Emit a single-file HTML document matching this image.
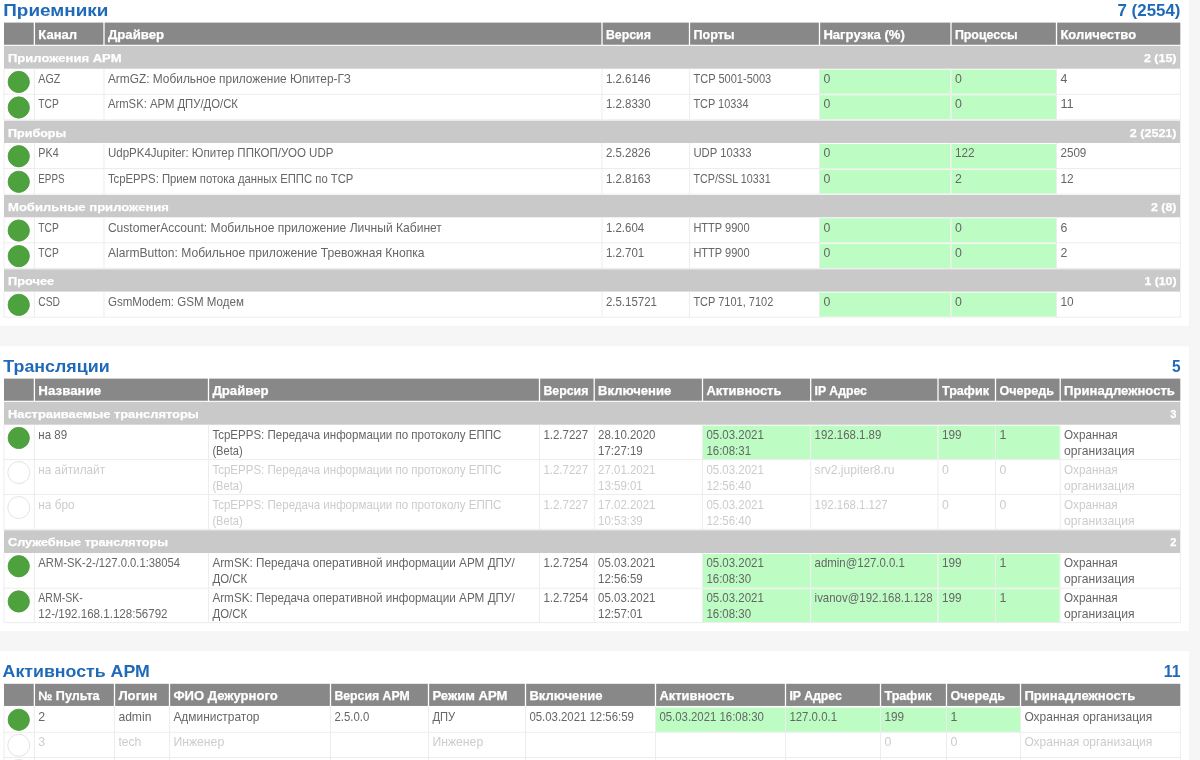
<!DOCTYPE html>
<html lang="ru"><head><meta charset="utf-8"><title>Мониторинг</title>
<style>
html,body{margin:0;padding:0;width:1200px;height:760px;overflow:hidden;background:#f6f6f6;}
#pg{position:absolute;left:-20px;top:-20px;width:1240px;height:800px;overflow:hidden;font-family:"Liberation Sans",sans-serif;filter:blur(0.5px);}
#in{position:absolute;left:20px;top:20px;width:1200px;height:760px;}
#pg svg{position:absolute;left:-20px;top:-20px;}
#pg span{position:absolute;left:0;top:0;white-space:pre;transform-origin:0 0;line-height:16.000px;font-size:11.850px;color:#666666;}
#pg .b{font-weight:bold;-webkit-text-stroke:0.25px #fff;}
#pg .w{color:#fff;}
#pg .d{color:#cccccc;}
#pg .h{font-size:12.000px;}
#pg .g{font-size:11.300px;}
#pg .tt{font-weight:bold;font-size:16.900px;line-height:24.000px;color:#1f6ab8;}
</style></head><body><div id="pg"><div id="in">
<svg width="1240" height="800" viewBox="-20 -20 1240 800">
<rect x="-20.00" y="-20.00" width="1240.00" height="800.00" fill="#f6f6f6"/>
<rect x="-20.00" y="-20.00" width="1208.80" height="345.80" fill="#ffffff"/>
<rect x="4.00" y="22.60" width="29.75" height="22.15" fill="#888888"/>
<rect x="35.05" y="22.60" width="68.30" height="22.15" fill="#888888"/>
<rect x="104.65" y="22.60" width="496.70" height="22.15" fill="#888888"/>
<rect x="602.65" y="22.60" width="86.20" height="22.15" fill="#888888"/>
<rect x="690.15" y="22.60" width="128.70" height="22.15" fill="#888888"/>
<rect x="820.15" y="22.60" width="130.20" height="22.15" fill="#888888"/>
<rect x="951.65" y="22.60" width="104.20" height="22.15" fill="#888888"/>
<rect x="1057.15" y="22.60" width="123.15" height="22.15" fill="#888888"/>
<rect x="4.00" y="45.85" width="1176.30" height="22.85" fill="#c9c9c9"/>
<rect x="819.80" y="69.65" width="130.70" height="24.20" fill="#bdfcc3"/>
<rect x="951.30" y="69.65" width="104.70" height="24.20" fill="#bdfcc3"/>
<rect x="4.00" y="93.75" width="1176.30" height="1.00" fill="#ededed"/>
<rect x="3.50" y="68.70" width="1.00" height="26.05" fill="#ededed"/>
<rect x="33.90" y="68.70" width="1.00" height="26.05" fill="#ededed"/>
<rect x="103.50" y="68.70" width="1.00" height="26.05" fill="#ededed"/>
<rect x="601.50" y="68.70" width="1.00" height="26.05" fill="#ededed"/>
<rect x="689.00" y="68.70" width="1.00" height="26.05" fill="#ededed"/>
<rect x="819.00" y="68.70" width="1.00" height="26.05" fill="#ededed"/>
<rect x="950.50" y="68.70" width="1.00" height="26.05" fill="#ededed"/>
<rect x="1056.00" y="68.70" width="1.00" height="26.05" fill="#ededed"/>
<rect x="1179.80" y="68.70" width="1.00" height="26.05" fill="#ededed"/>
<rect x="819.80" y="95.20" width="130.70" height="24.20" fill="#bdfcc3"/>
<rect x="951.30" y="95.20" width="104.70" height="24.20" fill="#bdfcc3"/>
<rect x="4.00" y="119.30" width="1176.30" height="1.00" fill="#ededed"/>
<rect x="3.50" y="94.25" width="1.00" height="26.05" fill="#ededed"/>
<rect x="33.90" y="94.25" width="1.00" height="26.05" fill="#ededed"/>
<rect x="103.50" y="94.25" width="1.00" height="26.05" fill="#ededed"/>
<rect x="601.50" y="94.25" width="1.00" height="26.05" fill="#ededed"/>
<rect x="689.00" y="94.25" width="1.00" height="26.05" fill="#ededed"/>
<rect x="819.00" y="94.25" width="1.00" height="26.05" fill="#ededed"/>
<rect x="950.50" y="94.25" width="1.00" height="26.05" fill="#ededed"/>
<rect x="1056.00" y="94.25" width="1.00" height="26.05" fill="#ededed"/>
<rect x="1179.80" y="94.25" width="1.00" height="26.05" fill="#ededed"/>
<rect x="4.00" y="120.70" width="1176.30" height="22.30" fill="#c9c9c9"/>
<rect x="819.80" y="143.95" width="130.70" height="24.20" fill="#bdfcc3"/>
<rect x="951.30" y="143.95" width="104.70" height="24.20" fill="#bdfcc3"/>
<rect x="4.00" y="168.05" width="1176.30" height="1.00" fill="#ededed"/>
<rect x="3.50" y="143.00" width="1.00" height="26.05" fill="#ededed"/>
<rect x="33.90" y="143.00" width="1.00" height="26.05" fill="#ededed"/>
<rect x="103.50" y="143.00" width="1.00" height="26.05" fill="#ededed"/>
<rect x="601.50" y="143.00" width="1.00" height="26.05" fill="#ededed"/>
<rect x="689.00" y="143.00" width="1.00" height="26.05" fill="#ededed"/>
<rect x="819.00" y="143.00" width="1.00" height="26.05" fill="#ededed"/>
<rect x="950.50" y="143.00" width="1.00" height="26.05" fill="#ededed"/>
<rect x="1056.00" y="143.00" width="1.00" height="26.05" fill="#ededed"/>
<rect x="1179.80" y="143.00" width="1.00" height="26.05" fill="#ededed"/>
<rect x="819.80" y="169.50" width="130.70" height="24.20" fill="#bdfcc3"/>
<rect x="951.30" y="169.50" width="104.70" height="24.20" fill="#bdfcc3"/>
<rect x="4.00" y="193.60" width="1176.30" height="1.00" fill="#ededed"/>
<rect x="3.50" y="168.55" width="1.00" height="26.05" fill="#ededed"/>
<rect x="33.90" y="168.55" width="1.00" height="26.05" fill="#ededed"/>
<rect x="103.50" y="168.55" width="1.00" height="26.05" fill="#ededed"/>
<rect x="601.50" y="168.55" width="1.00" height="26.05" fill="#ededed"/>
<rect x="689.00" y="168.55" width="1.00" height="26.05" fill="#ededed"/>
<rect x="819.00" y="168.55" width="1.00" height="26.05" fill="#ededed"/>
<rect x="950.50" y="168.55" width="1.00" height="26.05" fill="#ededed"/>
<rect x="1056.00" y="168.55" width="1.00" height="26.05" fill="#ededed"/>
<rect x="1179.80" y="168.55" width="1.00" height="26.05" fill="#ededed"/>
<rect x="4.00" y="195.00" width="1176.30" height="22.30" fill="#c9c9c9"/>
<rect x="819.80" y="218.25" width="130.70" height="24.20" fill="#bdfcc3"/>
<rect x="951.30" y="218.25" width="104.70" height="24.20" fill="#bdfcc3"/>
<rect x="4.00" y="242.35" width="1176.30" height="1.00" fill="#ededed"/>
<rect x="3.50" y="217.30" width="1.00" height="26.05" fill="#ededed"/>
<rect x="33.90" y="217.30" width="1.00" height="26.05" fill="#ededed"/>
<rect x="103.50" y="217.30" width="1.00" height="26.05" fill="#ededed"/>
<rect x="601.50" y="217.30" width="1.00" height="26.05" fill="#ededed"/>
<rect x="689.00" y="217.30" width="1.00" height="26.05" fill="#ededed"/>
<rect x="819.00" y="217.30" width="1.00" height="26.05" fill="#ededed"/>
<rect x="950.50" y="217.30" width="1.00" height="26.05" fill="#ededed"/>
<rect x="1056.00" y="217.30" width="1.00" height="26.05" fill="#ededed"/>
<rect x="1179.80" y="217.30" width="1.00" height="26.05" fill="#ededed"/>
<rect x="819.80" y="243.80" width="130.70" height="24.20" fill="#bdfcc3"/>
<rect x="951.30" y="243.80" width="104.70" height="24.20" fill="#bdfcc3"/>
<rect x="4.00" y="267.90" width="1176.30" height="1.00" fill="#ededed"/>
<rect x="3.50" y="242.85" width="1.00" height="26.05" fill="#ededed"/>
<rect x="33.90" y="242.85" width="1.00" height="26.05" fill="#ededed"/>
<rect x="103.50" y="242.85" width="1.00" height="26.05" fill="#ededed"/>
<rect x="601.50" y="242.85" width="1.00" height="26.05" fill="#ededed"/>
<rect x="689.00" y="242.85" width="1.00" height="26.05" fill="#ededed"/>
<rect x="819.00" y="242.85" width="1.00" height="26.05" fill="#ededed"/>
<rect x="950.50" y="242.85" width="1.00" height="26.05" fill="#ededed"/>
<rect x="1056.00" y="242.85" width="1.00" height="26.05" fill="#ededed"/>
<rect x="1179.80" y="242.85" width="1.00" height="26.05" fill="#ededed"/>
<rect x="4.00" y="269.30" width="1176.30" height="22.30" fill="#c9c9c9"/>
<rect x="819.80" y="292.55" width="130.70" height="24.20" fill="#bdfcc3"/>
<rect x="951.30" y="292.55" width="104.70" height="24.20" fill="#bdfcc3"/>
<rect x="4.00" y="316.65" width="1176.30" height="1.00" fill="#ededed"/>
<rect x="3.50" y="291.60" width="1.00" height="26.05" fill="#ededed"/>
<rect x="33.90" y="291.60" width="1.00" height="26.05" fill="#ededed"/>
<rect x="103.50" y="291.60" width="1.00" height="26.05" fill="#ededed"/>
<rect x="601.50" y="291.60" width="1.00" height="26.05" fill="#ededed"/>
<rect x="689.00" y="291.60" width="1.00" height="26.05" fill="#ededed"/>
<rect x="819.00" y="291.60" width="1.00" height="26.05" fill="#ededed"/>
<rect x="950.50" y="291.60" width="1.00" height="26.05" fill="#ededed"/>
<rect x="1056.00" y="291.60" width="1.00" height="26.05" fill="#ededed"/>
<rect x="1179.80" y="291.60" width="1.00" height="26.05" fill="#ededed"/>
<rect x="-20.00" y="346.30" width="1208.80" height="284.80" fill="#ffffff"/>
<rect x="4.00" y="378.60" width="29.75" height="22.15" fill="#888888"/>
<rect x="35.05" y="378.60" width="172.80" height="22.15" fill="#888888"/>
<rect x="209.15" y="378.60" width="329.70" height="22.15" fill="#888888"/>
<rect x="540.15" y="378.60" width="53.40" height="22.15" fill="#888888"/>
<rect x="594.85" y="378.60" width="107.00" height="22.15" fill="#888888"/>
<rect x="703.15" y="378.60" width="106.90" height="22.15" fill="#888888"/>
<rect x="811.35" y="378.60" width="126.00" height="22.15" fill="#888888"/>
<rect x="938.65" y="378.60" width="56.20" height="22.15" fill="#888888"/>
<rect x="996.15" y="378.60" width="63.40" height="22.15" fill="#888888"/>
<rect x="1060.85" y="378.60" width="119.45" height="22.15" fill="#888888"/>
<rect x="4.00" y="401.85" width="1176.30" height="22.85" fill="#c9c9c9"/>
<rect x="702.80" y="425.65" width="107.40" height="33.55" fill="#bdfcc3"/>
<rect x="811.00" y="425.65" width="126.50" height="33.55" fill="#bdfcc3"/>
<rect x="938.30" y="425.65" width="56.70" height="33.55" fill="#bdfcc3"/>
<rect x="995.80" y="425.65" width="63.90" height="33.55" fill="#bdfcc3"/>
<rect x="4.00" y="459.10" width="1176.30" height="1.00" fill="#ededed"/>
<rect x="3.50" y="424.70" width="1.00" height="35.40" fill="#ededed"/>
<rect x="33.90" y="424.70" width="1.00" height="35.40" fill="#ededed"/>
<rect x="208.00" y="424.70" width="1.00" height="35.40" fill="#ededed"/>
<rect x="539.00" y="424.70" width="1.00" height="35.40" fill="#ededed"/>
<rect x="593.70" y="424.70" width="1.00" height="35.40" fill="#ededed"/>
<rect x="702.00" y="424.70" width="1.00" height="35.40" fill="#ededed"/>
<rect x="810.20" y="424.70" width="1.00" height="35.40" fill="#ededed"/>
<rect x="937.50" y="424.70" width="1.00" height="35.40" fill="#ededed"/>
<rect x="995.00" y="424.70" width="1.00" height="35.40" fill="#ededed"/>
<rect x="1059.70" y="424.70" width="1.00" height="35.40" fill="#ededed"/>
<rect x="1179.80" y="424.70" width="1.00" height="35.40" fill="#ededed"/>
<rect x="4.00" y="494.00" width="1176.30" height="1.00" fill="#ededed"/>
<rect x="3.50" y="459.60" width="1.00" height="35.40" fill="#ededed"/>
<rect x="33.90" y="459.60" width="1.00" height="35.40" fill="#ededed"/>
<rect x="208.00" y="459.60" width="1.00" height="35.40" fill="#ededed"/>
<rect x="539.00" y="459.60" width="1.00" height="35.40" fill="#ededed"/>
<rect x="593.70" y="459.60" width="1.00" height="35.40" fill="#ededed"/>
<rect x="702.00" y="459.60" width="1.00" height="35.40" fill="#ededed"/>
<rect x="810.20" y="459.60" width="1.00" height="35.40" fill="#ededed"/>
<rect x="937.50" y="459.60" width="1.00" height="35.40" fill="#ededed"/>
<rect x="995.00" y="459.60" width="1.00" height="35.40" fill="#ededed"/>
<rect x="1059.70" y="459.60" width="1.00" height="35.40" fill="#ededed"/>
<rect x="1179.80" y="459.60" width="1.00" height="35.40" fill="#ededed"/>
<rect x="4.00" y="528.90" width="1176.30" height="1.00" fill="#ededed"/>
<rect x="3.50" y="494.50" width="1.00" height="35.40" fill="#ededed"/>
<rect x="33.90" y="494.50" width="1.00" height="35.40" fill="#ededed"/>
<rect x="208.00" y="494.50" width="1.00" height="35.40" fill="#ededed"/>
<rect x="539.00" y="494.50" width="1.00" height="35.40" fill="#ededed"/>
<rect x="593.70" y="494.50" width="1.00" height="35.40" fill="#ededed"/>
<rect x="702.00" y="494.50" width="1.00" height="35.40" fill="#ededed"/>
<rect x="810.20" y="494.50" width="1.00" height="35.40" fill="#ededed"/>
<rect x="937.50" y="494.50" width="1.00" height="35.40" fill="#ededed"/>
<rect x="995.00" y="494.50" width="1.00" height="35.40" fill="#ededed"/>
<rect x="1059.70" y="494.50" width="1.00" height="35.40" fill="#ededed"/>
<rect x="1179.80" y="494.50" width="1.00" height="35.40" fill="#ededed"/>
<rect x="4.00" y="530.30" width="1176.30" height="22.70" fill="#c9c9c9"/>
<rect x="702.80" y="553.95" width="107.40" height="33.85" fill="#bdfcc3"/>
<rect x="811.00" y="553.95" width="126.50" height="33.85" fill="#bdfcc3"/>
<rect x="938.30" y="553.95" width="56.70" height="33.85" fill="#bdfcc3"/>
<rect x="995.80" y="553.95" width="63.90" height="33.85" fill="#bdfcc3"/>
<rect x="4.00" y="587.70" width="1176.30" height="1.00" fill="#ededed"/>
<rect x="3.50" y="553.00" width="1.00" height="35.70" fill="#ededed"/>
<rect x="33.90" y="553.00" width="1.00" height="35.70" fill="#ededed"/>
<rect x="208.00" y="553.00" width="1.00" height="35.70" fill="#ededed"/>
<rect x="539.00" y="553.00" width="1.00" height="35.70" fill="#ededed"/>
<rect x="593.70" y="553.00" width="1.00" height="35.70" fill="#ededed"/>
<rect x="702.00" y="553.00" width="1.00" height="35.70" fill="#ededed"/>
<rect x="810.20" y="553.00" width="1.00" height="35.70" fill="#ededed"/>
<rect x="937.50" y="553.00" width="1.00" height="35.70" fill="#ededed"/>
<rect x="995.00" y="553.00" width="1.00" height="35.70" fill="#ededed"/>
<rect x="1059.70" y="553.00" width="1.00" height="35.70" fill="#ededed"/>
<rect x="1179.80" y="553.00" width="1.00" height="35.70" fill="#ededed"/>
<rect x="702.80" y="589.15" width="107.40" height="33.05" fill="#bdfcc3"/>
<rect x="811.00" y="589.15" width="126.50" height="33.05" fill="#bdfcc3"/>
<rect x="938.30" y="589.15" width="56.70" height="33.05" fill="#bdfcc3"/>
<rect x="995.80" y="589.15" width="63.90" height="33.05" fill="#bdfcc3"/>
<rect x="4.00" y="622.10" width="1176.30" height="1.00" fill="#ededed"/>
<rect x="3.50" y="588.20" width="1.00" height="34.90" fill="#ededed"/>
<rect x="33.90" y="588.20" width="1.00" height="34.90" fill="#ededed"/>
<rect x="208.00" y="588.20" width="1.00" height="34.90" fill="#ededed"/>
<rect x="539.00" y="588.20" width="1.00" height="34.90" fill="#ededed"/>
<rect x="593.70" y="588.20" width="1.00" height="34.90" fill="#ededed"/>
<rect x="702.00" y="588.20" width="1.00" height="34.90" fill="#ededed"/>
<rect x="810.20" y="588.20" width="1.00" height="34.90" fill="#ededed"/>
<rect x="937.50" y="588.20" width="1.00" height="34.90" fill="#ededed"/>
<rect x="995.00" y="588.20" width="1.00" height="34.90" fill="#ededed"/>
<rect x="1059.70" y="588.20" width="1.00" height="34.90" fill="#ededed"/>
<rect x="1179.80" y="588.20" width="1.00" height="34.90" fill="#ededed"/>
<rect x="-20.00" y="651.10" width="1208.80" height="128.90" fill="#ffffff"/>
<rect x="4.00" y="683.80" width="29.75" height="22.15" fill="#888888"/>
<rect x="35.05" y="683.80" width="78.80" height="22.15" fill="#888888"/>
<rect x="115.15" y="683.80" width="53.70" height="22.15" fill="#888888"/>
<rect x="170.15" y="683.80" width="159.70" height="22.15" fill="#888888"/>
<rect x="331.15" y="683.80" width="96.70" height="22.15" fill="#888888"/>
<rect x="429.15" y="683.80" width="95.70" height="22.15" fill="#888888"/>
<rect x="526.15" y="683.80" width="128.70" height="22.15" fill="#888888"/>
<rect x="656.15" y="683.80" width="128.70" height="22.15" fill="#888888"/>
<rect x="786.15" y="683.80" width="93.70" height="22.15" fill="#888888"/>
<rect x="881.15" y="683.80" width="64.70" height="22.15" fill="#888888"/>
<rect x="947.15" y="683.80" width="72.70" height="22.15" fill="#888888"/>
<rect x="1021.15" y="683.80" width="159.15" height="22.15" fill="#888888"/>
<rect x="655.80" y="707.50" width="129.20" height="24.40" fill="#bdfcc3"/>
<rect x="785.80" y="707.50" width="94.20" height="24.40" fill="#bdfcc3"/>
<rect x="880.80" y="707.50" width="65.20" height="24.40" fill="#bdfcc3"/>
<rect x="946.80" y="707.50" width="73.20" height="24.40" fill="#bdfcc3"/>
<rect x="4.00" y="731.80" width="1176.30" height="1.00" fill="#ededed"/>
<rect x="3.50" y="706.55" width="1.00" height="26.25" fill="#ededed"/>
<rect x="33.90" y="706.55" width="1.00" height="26.25" fill="#ededed"/>
<rect x="114.00" y="706.55" width="1.00" height="26.25" fill="#ededed"/>
<rect x="169.00" y="706.55" width="1.00" height="26.25" fill="#ededed"/>
<rect x="330.00" y="706.55" width="1.00" height="26.25" fill="#ededed"/>
<rect x="428.00" y="706.55" width="1.00" height="26.25" fill="#ededed"/>
<rect x="525.00" y="706.55" width="1.00" height="26.25" fill="#ededed"/>
<rect x="655.00" y="706.55" width="1.00" height="26.25" fill="#ededed"/>
<rect x="785.00" y="706.55" width="1.00" height="26.25" fill="#ededed"/>
<rect x="880.00" y="706.55" width="1.00" height="26.25" fill="#ededed"/>
<rect x="946.00" y="706.55" width="1.00" height="26.25" fill="#ededed"/>
<rect x="1020.00" y="706.55" width="1.00" height="26.25" fill="#ededed"/>
<rect x="1179.80" y="706.55" width="1.00" height="26.25" fill="#ededed"/>
<rect x="4.00" y="757.00" width="1176.30" height="1.00" fill="#ededed"/>
<rect x="3.50" y="732.30" width="1.00" height="25.70" fill="#ededed"/>
<rect x="33.90" y="732.30" width="1.00" height="25.70" fill="#ededed"/>
<rect x="114.00" y="732.30" width="1.00" height="25.70" fill="#ededed"/>
<rect x="169.00" y="732.30" width="1.00" height="25.70" fill="#ededed"/>
<rect x="330.00" y="732.30" width="1.00" height="25.70" fill="#ededed"/>
<rect x="428.00" y="732.30" width="1.00" height="25.70" fill="#ededed"/>
<rect x="525.00" y="732.30" width="1.00" height="25.70" fill="#ededed"/>
<rect x="655.00" y="732.30" width="1.00" height="25.70" fill="#ededed"/>
<rect x="785.00" y="732.30" width="1.00" height="25.70" fill="#ededed"/>
<rect x="880.00" y="732.30" width="1.00" height="25.70" fill="#ededed"/>
<rect x="946.00" y="732.30" width="1.00" height="25.70" fill="#ededed"/>
<rect x="1020.00" y="732.30" width="1.00" height="25.70" fill="#ededed"/>
<rect x="1179.80" y="732.30" width="1.00" height="25.70" fill="#ededed"/>
<rect x="3.50" y="757.50" width="1.00" height="22.50" fill="#ededed"/>
<rect x="33.90" y="757.50" width="1.00" height="22.50" fill="#ededed"/>
<rect x="114.00" y="757.50" width="1.00" height="22.50" fill="#ededed"/>
<rect x="169.00" y="757.50" width="1.00" height="22.50" fill="#ededed"/>
<rect x="330.00" y="757.50" width="1.00" height="22.50" fill="#ededed"/>
<rect x="428.00" y="757.50" width="1.00" height="22.50" fill="#ededed"/>
<rect x="525.00" y="757.50" width="1.00" height="22.50" fill="#ededed"/>
<rect x="655.00" y="757.50" width="1.00" height="22.50" fill="#ededed"/>
<rect x="785.00" y="757.50" width="1.00" height="22.50" fill="#ededed"/>
<rect x="880.00" y="757.50" width="1.00" height="22.50" fill="#ededed"/>
<rect x="946.00" y="757.50" width="1.00" height="22.50" fill="#ededed"/>
<rect x="1020.00" y="757.50" width="1.00" height="22.50" fill="#ededed"/>
<rect x="1179.80" y="757.50" width="1.00" height="22.50" fill="#ededed"/>
<circle cx="18.75" cy="81.95" r="10.65" fill="#4ea23e" stroke="#47983a" stroke-width="0.8"/>
<circle cx="18.75" cy="107.50" r="10.65" fill="#4ea23e" stroke="#47983a" stroke-width="0.8"/>
<circle cx="18.75" cy="156.25" r="10.65" fill="#4ea23e" stroke="#47983a" stroke-width="0.8"/>
<circle cx="18.75" cy="181.80" r="10.65" fill="#4ea23e" stroke="#47983a" stroke-width="0.8"/>
<circle cx="18.75" cy="230.55" r="10.65" fill="#4ea23e" stroke="#47983a" stroke-width="0.8"/>
<circle cx="18.75" cy="256.10" r="10.65" fill="#4ea23e" stroke="#47983a" stroke-width="0.8"/>
<circle cx="18.75" cy="304.85" r="10.65" fill="#4ea23e" stroke="#47983a" stroke-width="0.8"/>
<circle cx="18.75" cy="437.95" r="10.65" fill="#4ea23e" stroke="#47983a" stroke-width="0.8"/>
<circle cx="18.75" cy="472.60" r="11.00" fill="#ffffff" stroke="#e0e0e0" stroke-width="0.9"/>
<circle cx="18.75" cy="507.50" r="11.00" fill="#ffffff" stroke="#e0e0e0" stroke-width="0.9"/>
<circle cx="18.75" cy="566.25" r="10.65" fill="#4ea23e" stroke="#47983a" stroke-width="0.8"/>
<circle cx="18.75" cy="601.45" r="10.65" fill="#4ea23e" stroke="#47983a" stroke-width="0.8"/>
<circle cx="18.75" cy="719.80" r="10.65" fill="#4ea23e" stroke="#47983a" stroke-width="0.8"/>
<circle cx="18.75" cy="745.30" r="11.00" fill="#ffffff" stroke="#e0e0e0" stroke-width="0.9"/>
<circle cx="18.75" cy="770.50" r="11.00" fill="#ffffff" stroke="#e0e0e0" stroke-width="0.9"/>
</svg>
<span class="tt" style="transform:translate(3.30px,-0.96px) scaleX(1.1178)">Приемники</span>
<span class="tt" style="transform:translate(1117.50px,-0.96px) scaleX(1.0012)">7 (2554)</span>
<span class="b w h" style="transform:translate(38.30px,27.04px) scaleX(1.0853)">Канал</span>
<span class="b w h" style="transform:translate(107.90px,27.04px) scaleX(1.0996)">Драйвер</span>
<span class="b w h" style="transform:translate(605.90px,27.04px) scaleX(1.0289)">Версия</span>
<span class="b w h" style="transform:translate(693.40px,27.04px) scaleX(1.0505)">Порты</span>
<span class="b w h" style="transform:translate(823.40px,27.04px) scaleX(1.0901)">Нагрузка (%)</span>
<span class="b w h" style="transform:translate(954.90px,27.04px) scaleX(1.0316)">Процессы</span>
<span class="b w h" style="transform:translate(1060.40px,27.04px) scaleX(1.0824)">Количество</span>
<span class="b w g" style="transform:translate(8.00px,50.03px) scaleX(1.1541)">Приложения АРМ</span>
<span class="b w g" style="transform:translate(1143.90px,50.03px) scaleX(1.1045)">2 (15)</span>
<span style="transform:translate(38.30px,71.04px) scaleX(0.9039)">AGZ</span>
<span style="transform:translate(107.90px,71.04px) scaleX(1.0034)">ArmGZ: Мобильное приложение Юпитер-ГЗ</span>
<span style="transform:translate(605.90px,71.04px) scaleX(0.9683)">1.2.6146</span>
<span style="transform:translate(693.40px,71.04px) scaleX(0.9332)">TCP 5001-5003</span>
<span style="transform:translate(823.40px,71.04px) scaleX(1.0418)">0</span>
<span style="transform:translate(954.90px,71.04px) scaleX(1.0418)">0</span>
<span style="transform:translate(1060.40px,71.04px) scaleX(1.0418)">4</span>
<span style="transform:translate(38.30px,96.04px) scaleX(0.8611)">TCP</span>
<span style="transform:translate(107.90px,96.04px) scaleX(0.9541)">ArmSK: АРМ ДПУ/ДО/СК</span>
<span style="transform:translate(605.90px,96.04px) scaleX(0.9683)">1.2.8330</span>
<span style="transform:translate(693.40px,96.04px) scaleX(0.9236)">TCP 10334</span>
<span style="transform:translate(823.40px,96.04px) scaleX(1.0418)">0</span>
<span style="transform:translate(954.90px,96.04px) scaleX(1.0418)">0</span>
<span style="transform:translate(1060.40px,96.04px) scaleX(1.0766)">11</span>
<span class="b w g" style="transform:translate(8.00px,125.03px) scaleX(1.1106)">Приборы</span>
<span class="b w g" style="transform:translate(1129.80px,125.03px) scaleX(1.1098)">2 (2521)</span>
<span style="transform:translate(38.30px,145.04px) scaleX(0.9117)">PK4</span>
<span style="transform:translate(107.90px,145.04px) scaleX(0.9734)">UdpPK4Jupiter: Юпитер ППКОП/УОО UDP</span>
<span style="transform:translate(605.90px,145.04px) scaleX(0.9683)">2.5.2826</span>
<span style="transform:translate(693.40px,145.04px) scaleX(0.9533)">UDP 10333</span>
<span style="transform:translate(823.40px,145.04px) scaleX(1.0418)">0</span>
<span style="transform:translate(954.90px,145.04px) scaleX(0.9921)">122</span>
<span style="transform:translate(1060.40px,145.04px) scaleX(0.9855)">2509</span>
<span style="transform:translate(38.30px,171.04px) scaleX(0.8296)">EPPS</span>
<span style="transform:translate(107.90px,171.04px) scaleX(0.9540)">TcpEPPS: Прием потока данных ЕППС по TCP</span>
<span style="transform:translate(605.90px,171.04px) scaleX(0.9683)">1.2.8163</span>
<span style="transform:translate(693.40px,171.04px) scaleX(0.9070)">TCP/SSL 10331</span>
<span style="transform:translate(823.40px,171.04px) scaleX(1.0418)">0</span>
<span style="transform:translate(954.90px,171.04px) scaleX(1.0418)">2</span>
<span style="transform:translate(1060.40px,171.04px) scaleX(1.0039)">12</span>
<span class="b w g" style="transform:translate(8.00px,199.03px) scaleX(1.1566)">Мобильные приложения</span>
<span class="b w g" style="transform:translate(1151.00px,199.03px) scaleX(1.0975)">2 (8)</span>
<span style="transform:translate(38.30px,220.04px) scaleX(0.8611)">TCP</span>
<span style="transform:translate(107.90px,220.04px) scaleX(1.0182)">CustomerAccount: Мобильное приложение Личный Кабинет</span>
<span style="transform:translate(605.90px,220.04px) scaleX(0.9683)">1.2.604</span>
<span style="transform:translate(693.40px,220.04px) scaleX(0.9298)">HTTP 9900</span>
<span style="transform:translate(823.40px,220.04px) scaleX(1.0418)">0</span>
<span style="transform:translate(954.90px,220.04px) scaleX(1.0418)">0</span>
<span style="transform:translate(1060.40px,220.04px) scaleX(1.0418)">6</span>
<span style="transform:translate(38.30px,245.04px) scaleX(0.8611)">TCP</span>
<span style="transform:translate(107.90px,245.04px) scaleX(1.0214)">AlarmButton: Мобильное приложение Тревожная Кнопка</span>
<span style="transform:translate(605.90px,245.04px) scaleX(0.9683)">1.2.701</span>
<span style="transform:translate(693.40px,245.04px) scaleX(0.9298)">HTTP 9900</span>
<span style="transform:translate(823.40px,245.04px) scaleX(1.0418)">0</span>
<span style="transform:translate(954.90px,245.04px) scaleX(1.0418)">0</span>
<span style="transform:translate(1060.40px,245.04px) scaleX(1.0418)">2</span>
<span class="b w g" style="transform:translate(8.00px,273.03px) scaleX(1.1333)">Прочее</span>
<span class="b w g" style="transform:translate(1144.40px,273.03px) scaleX(1.0876)">1 (10)</span>
<span style="transform:translate(38.30px,294.04px) scaleX(0.8700)">CSD</span>
<span style="transform:translate(107.90px,294.04px) scaleX(0.9762)">GsmModem: GSM Модем</span>
<span style="transform:translate(605.90px,294.04px) scaleX(0.9680)">2.5.15721</span>
<span style="transform:translate(693.40px,294.04px) scaleX(0.9282)">TCP 7101, 7102</span>
<span style="transform:translate(823.40px,294.04px) scaleX(1.0418)">0</span>
<span style="transform:translate(954.90px,294.04px) scaleX(1.0418)">0</span>
<span style="transform:translate(1060.40px,294.04px) scaleX(1.0039)">10</span>
<span class="tt" style="transform:translate(3.30px,355.04px) scaleX(1.0554)">Трансляции</span>
<span class="tt" style="transform:translate(1171.90px,355.04px) scaleX(0.9143)">5</span>
<span class="b w h" style="transform:translate(38.30px,383.04px) scaleX(1.1120)">Название</span>
<span class="b w h" style="transform:translate(212.40px,383.04px) scaleX(1.0996)">Драйвер</span>
<span class="b w h" style="transform:translate(543.40px,383.04px) scaleX(1.0289)">Версия</span>
<span class="b w h" style="transform:translate(598.10px,383.04px) scaleX(1.0897)">Включение</span>
<span class="b w h" style="transform:translate(706.40px,383.04px) scaleX(1.0767)">Активность</span>
<span class="b w h" style="transform:translate(814.60px,383.04px) scaleX(1.0202)">IP Адрес</span>
<span class="b w h" style="transform:translate(941.90px,383.04px) scaleX(1.0521)">Трафик</span>
<span class="b w h" style="transform:translate(999.40px,383.04px) scaleX(1.0503)">Очередь</span>
<span class="b w h" style="transform:translate(1064.10px,383.04px) scaleX(1.0893)">Принадлежность</span>
<span class="b w g" style="transform:translate(8.00px,406.03px) scaleX(1.1391)">Настраиваемые трансляторы</span>
<span class="b w g" style="transform:translate(1170.30px,406.03px) scaleX(0.9846)">3</span>
<span style="transform:translate(38.30px,427.04px) scaleX(0.9715)">на 89</span>
<span style="transform:translate(212.40px,427.04px) scaleX(0.9738)">TcpEPPS: Передача информации по протоколу ЕППС</span>
<span style="transform:translate(212.40px,443.04px) scaleX(0.9375)">(Beta)</span>
<span style="transform:translate(543.40px,427.04px) scaleX(0.9683)">1.2.7227</span>
<span style="transform:translate(598.10px,427.04px) scaleX(0.9680)">28.10.2020</span>
<span style="transform:translate(598.10px,443.04px) scaleX(0.9683)">17:27:19</span>
<span style="transform:translate(706.40px,427.04px) scaleX(0.9680)">05.03.2021</span>
<span style="transform:translate(706.40px,443.04px) scaleX(0.9683)">16:08:31</span>
<span style="transform:translate(814.60px,427.04px) scaleX(0.9648)">192.168.1.89</span>
<span style="transform:translate(941.90px,427.04px) scaleX(0.9921)">199</span>
<span style="transform:translate(999.40px,427.04px) scaleX(1.0418)">1</span>
<span style="transform:translate(1064.10px,427.04px) scaleX(0.9877)">Охранная</span>
<span style="transform:translate(1064.10px,443.04px) scaleX(1.0245)">организация</span>
<span class="d" style="transform:translate(38.30px,462.04px) scaleX(0.9933)">на айтилайт</span>
<span class="d" style="transform:translate(212.40px,462.04px) scaleX(0.9738)">TcpEPPS: Передача информации по протоколу ЕППС</span>
<span class="d" style="transform:translate(212.40px,478.04px) scaleX(0.9375)">(Beta)</span>
<span class="d" style="transform:translate(543.40px,462.04px) scaleX(0.9683)">1.2.7227</span>
<span class="d" style="transform:translate(598.10px,462.04px) scaleX(0.9680)">27.01.2021</span>
<span class="d" style="transform:translate(598.10px,478.04px) scaleX(0.9683)">13:59:01</span>
<span class="d" style="transform:translate(706.40px,462.04px) scaleX(0.9680)">05.03.2021</span>
<span class="d" style="transform:translate(706.40px,478.04px) scaleX(0.9683)">12:56:40</span>
<span class="d" style="transform:translate(814.60px,462.04px) scaleX(1.0211)">srv2.jupiter8.ru</span>
<span class="d" style="transform:translate(941.90px,462.04px) scaleX(1.0418)">0</span>
<span class="d" style="transform:translate(999.40px,462.04px) scaleX(1.0418)">0</span>
<span class="d" style="transform:translate(1064.10px,462.04px) scaleX(0.9877)">Охранная</span>
<span class="d" style="transform:translate(1064.10px,478.04px) scaleX(1.0245)">организация</span>
<span class="d" style="transform:translate(38.30px,497.04px) scaleX(0.9961)">на бро</span>
<span class="d" style="transform:translate(212.40px,497.04px) scaleX(0.9738)">TcpEPPS: Передача информации по протоколу ЕППС</span>
<span class="d" style="transform:translate(212.40px,513.04px) scaleX(0.9375)">(Beta)</span>
<span class="d" style="transform:translate(543.40px,497.04px) scaleX(0.9683)">1.2.7227</span>
<span class="d" style="transform:translate(598.10px,497.04px) scaleX(0.9680)">17.02.2021</span>
<span class="d" style="transform:translate(598.10px,513.04px) scaleX(0.9683)">10:53:39</span>
<span class="d" style="transform:translate(706.40px,497.04px) scaleX(0.9680)">05.03.2021</span>
<span class="d" style="transform:translate(706.40px,513.04px) scaleX(0.9683)">12:56:40</span>
<span class="d" style="transform:translate(814.60px,497.04px) scaleX(0.9649)">192.168.1.127</span>
<span class="d" style="transform:translate(941.90px,497.04px) scaleX(1.0418)">0</span>
<span class="d" style="transform:translate(999.40px,497.04px) scaleX(1.0418)">0</span>
<span class="d" style="transform:translate(1064.10px,497.04px) scaleX(0.9877)">Охранная</span>
<span class="d" style="transform:translate(1064.10px,513.04px) scaleX(1.0245)">организация</span>
<span class="b w g" style="transform:translate(8.00px,534.03px) scaleX(1.1196)">Служебные трансляторы</span>
<span class="b w g" style="transform:translate(1170.30px,534.03px) scaleX(0.9846)">2</span>
<span style="transform:translate(38.30px,555.04px) scaleX(0.9485)">ARM-SK-2-/127.0.0.1:38054</span>
<span style="transform:translate(212.40px,555.04px) scaleX(0.9894)">ArmSK: Передача оперативной информации АРМ ДПУ/</span>
<span style="transform:translate(212.40px,571.04px) scaleX(0.9643)">ДО/СК</span>
<span style="transform:translate(543.40px,555.04px) scaleX(0.9683)">1.2.7254</span>
<span style="transform:translate(598.10px,555.04px) scaleX(0.9680)">05.03.2021</span>
<span style="transform:translate(598.10px,571.04px) scaleX(0.9683)">12:56:59</span>
<span style="transform:translate(706.40px,555.04px) scaleX(0.9680)">05.03.2021</span>
<span style="transform:translate(706.40px,571.04px) scaleX(0.9683)">16:08:30</span>
<span style="transform:translate(814.60px,555.04px) scaleX(0.9638)">admin@127.0.0.1</span>
<span style="transform:translate(941.90px,555.04px) scaleX(0.9921)">199</span>
<span style="transform:translate(999.40px,555.04px) scaleX(1.0418)">1</span>
<span style="transform:translate(1064.10px,555.04px) scaleX(0.9877)">Охранная</span>
<span style="transform:translate(1064.10px,571.04px) scaleX(1.0245)">организация</span>
<span style="transform:translate(38.30px,590.04px) scaleX(0.8897)">ARM-SK-</span>
<span style="transform:translate(38.30px,606.04px) scaleX(0.9764)">12-/192.168.1.128:56792</span>
<span style="transform:translate(212.40px,590.04px) scaleX(0.9894)">ArmSK: Передача оперативной информации АРМ ДПУ/</span>
<span style="transform:translate(212.40px,606.04px) scaleX(0.9643)">ДО/СК</span>
<span style="transform:translate(543.40px,590.04px) scaleX(0.9683)">1.2.7254</span>
<span style="transform:translate(598.10px,590.04px) scaleX(0.9680)">05.03.2021</span>
<span style="transform:translate(598.10px,606.04px) scaleX(0.9683)">12:57:01</span>
<span style="transform:translate(706.40px,590.04px) scaleX(0.9680)">05.03.2021</span>
<span style="transform:translate(706.40px,606.04px) scaleX(0.9683)">16:08:30</span>
<span style="transform:translate(814.60px,590.04px) scaleX(0.9672)">ivanov@192.168.1.128</span>
<span style="transform:translate(941.90px,590.04px) scaleX(0.9921)">199</span>
<span style="transform:translate(999.40px,590.04px) scaleX(1.0418)">1</span>
<span style="transform:translate(1064.10px,590.04px) scaleX(0.9877)">Охранная</span>
<span style="transform:translate(1064.10px,606.04px) scaleX(1.0245)">организация</span>
<span class="tt" style="transform:translate(2.60px,660.04px) scaleX(1.0511)">Активность АРМ</span>
<span class="tt" style="transform:translate(1163.80px,660.04px) scaleX(0.9351)">11</span>
<span class="b w h" style="transform:translate(38.30px,688.04px) scaleX(1.0504)">№ Пульта</span>
<span class="b w h" style="transform:translate(118.40px,688.04px) scaleX(1.0940)">Логин</span>
<span class="b w h" style="transform:translate(173.40px,688.04px) scaleX(1.0881)">ФИО Дежурного</span>
<span class="b w h" style="transform:translate(334.40px,688.04px) scaleX(1.0234)">Версия АРМ</span>
<span class="b w h" style="transform:translate(432.40px,688.04px) scaleX(1.0897)">Режим АРМ</span>
<span class="b w h" style="transform:translate(529.40px,688.04px) scaleX(1.0897)">Включение</span>
<span class="b w h" style="transform:translate(659.40px,688.04px) scaleX(1.0767)">Активность</span>
<span class="b w h" style="transform:translate(789.40px,688.04px) scaleX(1.0202)">IP Адрес</span>
<span class="b w h" style="transform:translate(884.40px,688.04px) scaleX(1.0521)">Трафик</span>
<span class="b w h" style="transform:translate(950.40px,688.04px) scaleX(1.0503)">Очередь</span>
<span class="b w h" style="transform:translate(1024.40px,688.04px) scaleX(1.0893)">Принадлежность</span>
<span style="transform:translate(38.30px,709.04px) scaleX(1.0418)">2</span>
<span style="transform:translate(118.40px,709.04px) scaleX(1.0228)">admin</span>
<span style="transform:translate(173.40px,709.04px) scaleX(1.0064)">Администратор</span>
<span style="transform:translate(334.40px,709.04px) scaleX(0.9624)">2.5.0.0</span>
<span style="transform:translate(432.40px,709.04px) scaleX(0.9434)">ДПУ</span>
<span style="transform:translate(529.40px,709.04px) scaleX(0.9609)">05.03.2021 12:56:59</span>
<span style="transform:translate(659.40px,709.04px) scaleX(0.9609)">05.03.2021 16:08:30</span>
<span style="transform:translate(789.40px,709.04px) scaleX(0.9637)">127.0.0.1</span>
<span style="transform:translate(884.40px,709.04px) scaleX(0.9921)">199</span>
<span style="transform:translate(950.40px,709.04px) scaleX(1.0418)">1</span>
<span style="transform:translate(1024.40px,709.04px) scaleX(1.0122)">Охранная организация</span>
<span class="d" style="transform:translate(38.30px,734.04px) scaleX(1.0418)">3</span>
<span class="d" style="transform:translate(118.40px,734.04px) scaleX(1.0193)">tech</span>
<span class="d" style="transform:translate(173.40px,734.04px) scaleX(1.0308)">Инженер</span>
<span class="d" style="transform:translate(432.40px,734.04px) scaleX(1.0308)">Инженер</span>
<span class="d" style="transform:translate(884.40px,734.04px) scaleX(1.0418)">0</span>
<span class="d" style="transform:translate(950.40px,734.04px) scaleX(1.0418)">0</span>
<span class="d" style="transform:translate(1024.40px,734.04px) scaleX(1.0122)">Охранная организация</span>
<span class="d" style="transform:translate(38.30px,760.04px) scaleX(1.0418)">4</span>
</div></div></body></html>
